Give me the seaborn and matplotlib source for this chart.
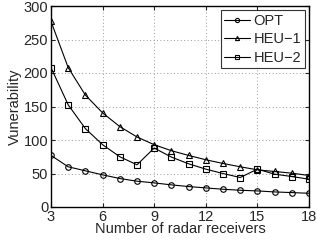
import matplotlib
matplotlib.use("Agg")
import matplotlib.pyplot as plt
import seaborn as sns
import pandas as pd

receivers = list(range(3, 19))
opt = [77, 60, 54, 48, 42.5, 38.5, 36, 33, 30.5, 28.5, 26.5, 25, 24, 22.5, 21.5, 20.5]
heu1 = [277, 208, 167, 140.5, 120, 104.5, 93, 84, 77, 70.5, 65, 60, 55.5, 53, 50.5, 47]
heu2 = [208, 152.5, 117, 93, 75, 63, 88, 74.5, 64.5, 56.5, 50, 44, 56.5, 49, 45.5, 41.5]
series_names = ["OPT", "HEU\u22121", "HEU\u22122"]
markers = ["o", "^", "s"]
xticks = [3, 6, 9, 12, 15, 18]
yticks = [0, 50, 100, 150, 200, 250, 300]

df = pd.DataFrame({
    "x": receivers * 3,
    "y": opt + heu1 + heu2,
    "series": sum([[n] * len(receivers) for n in series_names], []),
})

sns.set_style("white")
plt.rcParams["font.family"] = ["Liberation Sans", "DejaVu Sans"]

fig = plt.figure(figsize=(3.17, 2.42), dpi=100)
ax = fig.add_axes([51 / 317, 35 / 242, 258 / 317, 201 / 242])

sns.lineplot(data=df, x="x", y="y", hue="series", style="series",
             palette=["black"] * 3, markers=markers, dashes=False,
             linewidth=0.8, markersize=4, markerfacecolor="none",
             markeredgecolor="black", markeredgewidth=0.8, ax=ax)

ax.set_xlim(3, 18)
ax.set_ylim(0, 300)
ax.set_xticks(xticks)
ax.set_yticks(yticks)
ax.grid(True, linestyle=(0, (1, 2.5)), color="#999999", linewidth=0.7)
ax.tick_params(direction="in", labelsize=10.5, length=3, width=0.8, pad=2,
               top=True, right=True, bottom=True, left=True)
for s in ax.spines.values():
    s.set_color("black")
    s.set_linewidth(1.0)
ax.set_xlabel("Number of radar receivers", fontsize=10.5, labelpad=-1)
ax.set_ylabel("Vunerability", fontsize=10.5, labelpad=1)

leg = ax.legend(loc="upper right", fontsize=10.5, frameon=True, fancybox=False,
                edgecolor="black", borderpad=0.25, labelspacing=0.3,
                handlelength=1.8, handletextpad=0.2, borderaxespad=0.3)
leg.get_frame().set_linewidth(0.8)
for h in leg.legend_handles:
    h.set_markerfacecolor("none")
    h.set_markeredgecolor("black")
    h.set_markersize(3)

fig.savefig("out.png", dpi=100)
